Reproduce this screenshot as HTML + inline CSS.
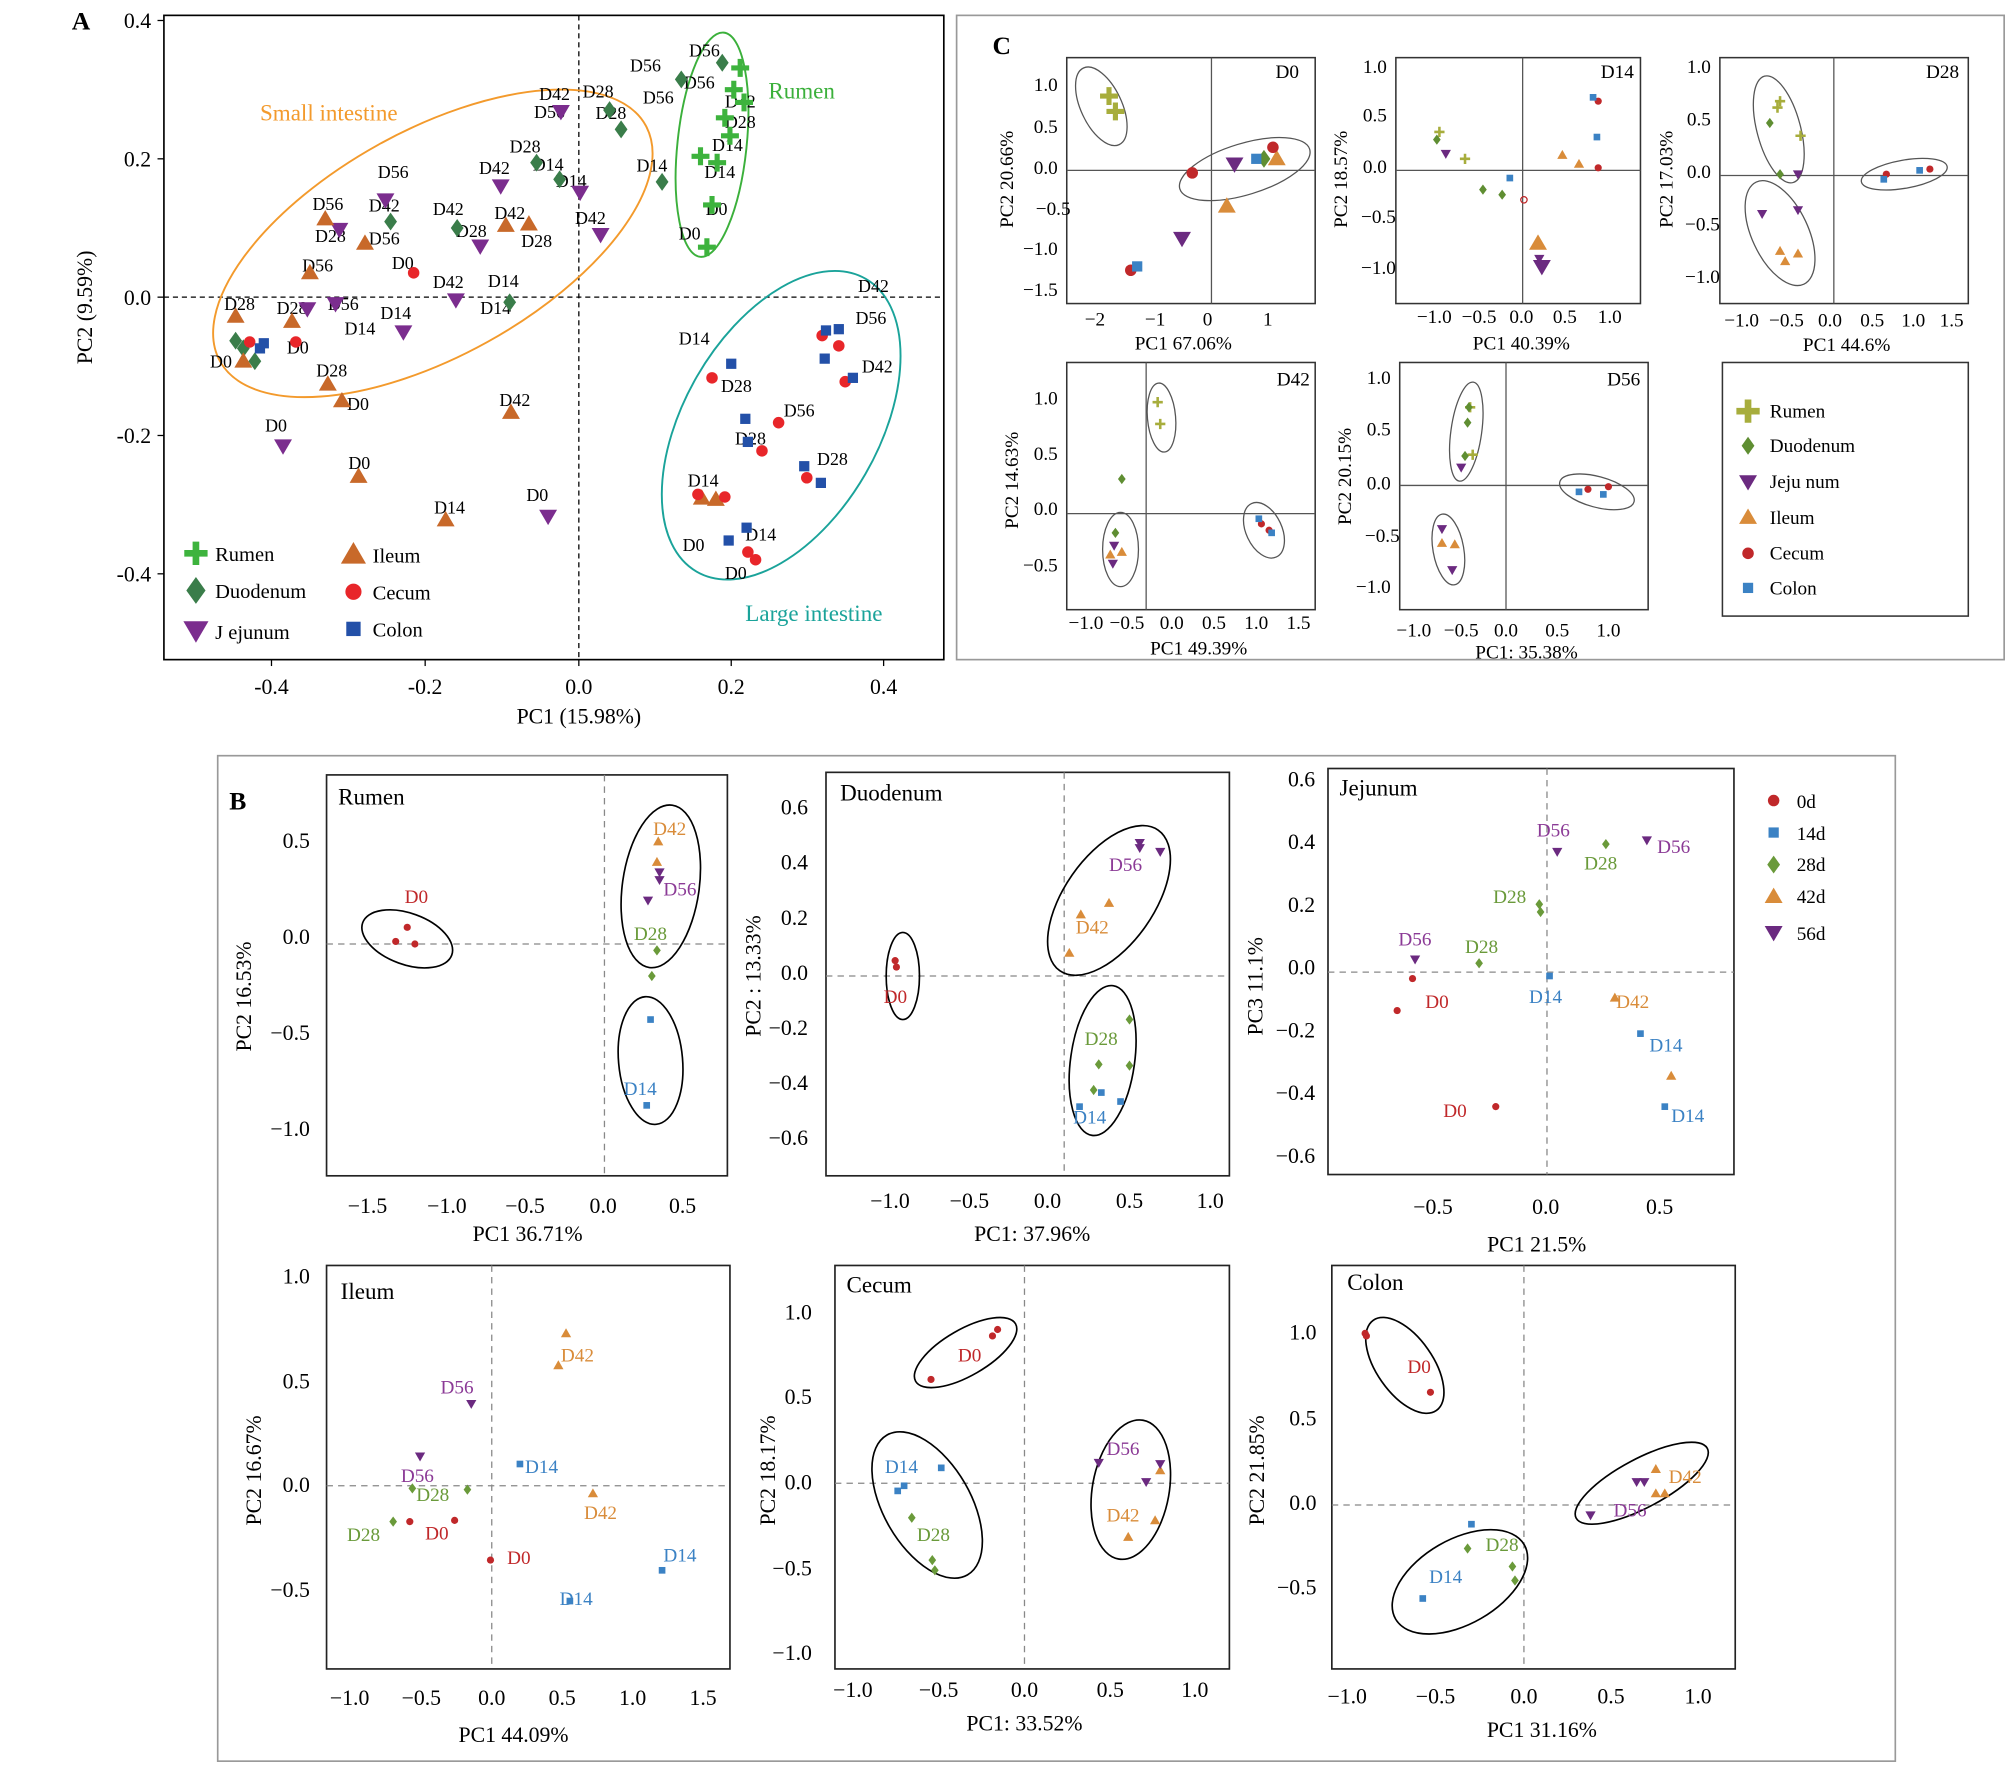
<!DOCTYPE html>
<html><head><meta charset="utf-8"><style>
html,body{margin:0;padding:0;background:#fff}
svg{display:block}
text{font-family:"Liberation Serif",serif}
</style></head><body>
<svg width="2008" height="1765" viewBox="0 0 1568 1378" preserveAspectRatio="none" xmlns="http://www.w3.org/2000/svg">
<defs>
<path id="tu" d="M0,-7 L7,5 L-7,5Z"/>
<path id="td" d="M0,7 L7,-5 L-7,-5Z"/>
<path id="di" d="M0,-7 L5,0 L0,7 L-5,0Z"/>
<circle id="ci" r="4.5"/>
<rect id="sq" x="-4" y="-4" width="8" height="8"/>
<path id="pl" d="M-2,-7h4v5h5v4h-5v5h-4v-5h-5v-4h5z"/>
<path id="stu" d="M0,-4 L4,3 L-4,3Z"/>
<path id="std" d="M0,4 L4,-3 L-4,-3Z"/>
<path id="sdi" d="M0,-4 L3,0 L0,4 L-3,0Z"/>
<circle id="sci" r="2.8"/>
<rect id="ssq" x="-2.6" y="-2.6" width="5.2" height="5.2"/>
<path id="spl" d="M-1,-4h2v3h3v2h-3v3h-2v-3h-3v-2h3z"/>
</defs>
<rect width="1568" height="1378" fill="#fff"/>

<!-- ============ PANEL A ============ -->
<text x="56" y="23" font-family="Liberation Sans" font-weight="bold" font-size="20">A</text>
<rect x="128" y="12" width="609" height="503" fill="none" stroke="#000" stroke-width="1.3"/>
<line x1="452" y1="12" x2="452" y2="515" stroke="#000" stroke-dasharray="4,3"/>
<line x1="128" y1="232" x2="737" y2="232" stroke="#000" stroke-dasharray="4,3"/>
<g font-size="17" text-anchor="end">
<text x="118" y="22">0.4</text><text x="118" y="130">0.2</text><text x="118" y="238">0.0</text><text x="118" y="346">-0.2</text><text x="118" y="454">-0.4</text></g>
<g stroke="#000"><line x1="128" y1="16" x2="123" y2="16"/><line x1="128" y1="124" x2="123" y2="124"/><line x1="128" y1="232" x2="123" y2="232"/><line x1="128" y1="340" x2="123" y2="340"/><line x1="128" y1="448" x2="123" y2="448"/>
<line x1="212" y1="515" x2="212" y2="520"/><line x1="332" y1="515" x2="332" y2="520"/><line x1="452" y1="515" x2="452" y2="520"/><line x1="571" y1="515" x2="571" y2="520"/><line x1="690" y1="515" x2="690" y2="520"/></g>
<g font-size="17" text-anchor="middle"><text x="212" y="542">-0.4</text><text x="332" y="542">-0.2</text><text x="452" y="542">0.0</text><text x="571" y="542">0.2</text><text x="690" y="542">0.4</text>
<text x="452" y="565">PC1 (15.98%)</text></g>
<text transform="translate(72,240) rotate(-90)" font-size="17" text-anchor="middle">PC2 (9.59%)</text>

<ellipse cx="338" cy="190" rx="190" ry="88" transform="rotate(-29 338 190)" fill="none" stroke="#f39a2c" stroke-width="1.5"/>
<ellipse cx="556" cy="113" rx="27" ry="88" transform="rotate(6 556 113)" fill="none" stroke="#3bb03b" stroke-width="1.5"/>
<ellipse cx="610" cy="332" rx="76" ry="132" transform="rotate(30 610 332)" fill="none" stroke="#1aa39a" stroke-width="1.5"/>
<text x="203" y="94" font-size="18" fill="#f39a2c">Small intestine</text>
<text x="600" y="77" font-size="18" fill="#3bb03b">Rumen</text>
<text x="582" y="485" font-size="18" fill="#1aa39a">Large intestine</text>

<g font-size="14">
<text x="492" y="56">D56</text><text x="538" y="44">D56</text><text x="534" y="69">D56</text><text x="502" y="81">D56</text><text x="566" y="84">D42</text><text x="566" y="100">D28</text><text x="556" y="118">D14</text><text x="550" y="139">D14</text><text x="551" y="168">D0</text><text x="530" y="187">D0</text><text x="497" y="134">D14</text>
<text x="421" y="78">D42</text><text x="455" y="76">D28</text><text x="417" y="92">D56</text><text x="465" y="93">D28</text><text x="398" y="119">D28</text><text x="374" y="136">D42</text><text x="416" y="133">D14</text><text x="434" y="146">D14</text><text x="295" y="139">D56</text><text x="244" y="164">D56</text><text x="288" y="165">D42</text><text x="246" y="189">D28</text><text x="288" y="191">D56</text><text x="338" y="168">D42</text><text x="356" y="185">D28</text><text x="386" y="171">D42</text><text x="407" y="193">D28</text><text x="449" y="175">D42</text><text x="306" y="210">D0</text><text x="236" y="212">D56</text><text x="338" y="225">D42</text><text x="381" y="224">D14</text><text x="375" y="245">D14</text><text x="297" y="249">D14</text><text x="269" y="261">D14</text><text x="256" y="242">D56</text><text x="175" y="242">D28</text><text x="216" y="245">D28</text><text x="224" y="276">D0</text><text x="164" y="287">D0</text><text x="247" y="294">D28</text><text x="271" y="320">D0</text><text x="207" y="337">D0</text><text x="390" y="317">D42</text><text x="272" y="366">D0</text><text x="339" y="401">D14</text><text x="411" y="391">D0</text>
<text x="670" y="228">D42</text><text x="668" y="253">D56</text><text x="530" y="269">D14</text><text x="673" y="291">D42</text><text x="563" y="306">D28</text><text x="612" y="325">D56</text><text x="574" y="347">D28</text><text x="638" y="363">D28</text><text x="537" y="380">D14</text><text x="582" y="422">D14</text><text x="533" y="430">D0</text><text x="566" y="452">D0</text>
</g>
<g fill="#3db33d"><use href="#pl" x="578" y="53"/><use href="#pl" x="573" y="70"/><use href="#pl" x="581" y="80"/><use href="#pl" x="566" y="92"/><use href="#pl" x="570" y="106"/><use href="#pl" x="560" y="127"/><use href="#pl" x="556" y="160"/><use href="#pl" x="552" y="193"/><use href="#pl" x="547" y="122"/></g>
<g fill="#3a7d4a"><use href="#di" x="564" y="49"/><use href="#di" x="532" y="62"/><use href="#di" x="485" y="101"/><use href="#di" x="517" y="142"/><use href="#di" x="437" y="140"/><use href="#di" x="419" y="127"/><use href="#di" x="305" y="173"/><use href="#di" x="357" y="178"/><use href="#di" x="398" y="236"/><use href="#di" x="184" y="266"/><use href="#di" x="199" y="282"/><use href="#di" x="190" y="272"/><use href="#di" x="476" y="86"/></g>
<g fill="#7b2d8e"><use href="#td" x="438" y="87"/><use href="#td" x="391" y="145"/><use href="#td" x="301" y="156"/><use href="#td" x="265" y="179"/><use href="#td" x="375" y="192"/><use href="#td" x="469" y="183"/><use href="#td" x="356" y="234"/><use href="#td" x="240" y="241"/><use href="#td" x="315" y="259"/><use href="#td" x="221" y="348"/><use href="#td" x="428" y="403"/><use href="#td" x="453" y="150"/><use href="#td" x="262" y="237"/></g>
<g fill="#c8692a"><use href="#tu" x="254" y="171"/><use href="#tu" x="285" y="190"/><use href="#tu" x="395" y="176"/><use href="#tu" x="413" y="175"/><use href="#tu" x="242" y="213"/><use href="#tu" x="184" y="247"/><use href="#tu" x="228" y="251"/><use href="#tu" x="190" y="282"/><use href="#tu" x="256" y="300"/><use href="#tu" x="267" y="313"/><use href="#tu" x="399" y="322"/><use href="#tu" x="280" y="372"/><use href="#tu" x="348" y="406"/><use href="#tu" x="548" y="389"/><use href="#tu" x="559" y="390"/></g>
<g fill="#e8262a"><use href="#ci" x="323" y="213"/><use href="#ci" x="195" y="267"/><use href="#ci" x="231" y="267"/><use href="#ci" x="556" y="295"/><use href="#ci" x="608" y="330"/><use href="#ci" x="642" y="262"/><use href="#ci" x="655" y="270"/><use href="#ci" x="660" y="298"/><use href="#ci" x="630" y="373"/><use href="#ci" x="595" y="352"/><use href="#ci" x="590" y="437"/><use href="#ci" x="584" y="431"/><use href="#ci" x="566" y="388"/><use href="#ci" x="545" y="386"/></g>
<g fill="#2350a8"><use href="#sq" x="203" y="272"/><use href="#sq" x="206" y="268"/><use href="#sq" x="571" y="284"/><use href="#sq" x="582" y="327"/><use href="#sq" x="584" y="345"/><use href="#sq" x="645" y="258"/><use href="#sq" x="655" y="257"/><use href="#sq" x="666" y="295"/><use href="#sq" x="628" y="364"/><use href="#sq" x="641" y="377"/><use href="#sq" x="583" y="412"/><use href="#sq" x="569" y="422"/><use href="#sq" x="644" y="280"/></g>
<g font-size="16">
<use href="#pl" x="153" y="432" fill="#3db33d" transform="translate(153,432) scale(1.3) translate(-153,-432)"/><text x="168" y="438">Rumen</text>
<use href="#di" x="153" y="461" fill="#3a7d4a" transform="translate(153,461) scale(1.5) translate(-153,-461)"/><text x="168" y="467">Duodenum</text>
<use href="#td" x="153" y="492" fill="#7b2d8e" transform="translate(153,492) scale(1.4) translate(-153,-492)"/><text x="168" y="499">J ejunum</text>
<use href="#tu" x="276" y="433" fill="#c8692a" transform="translate(276,433) scale(1.4) translate(-276,-433)"/><text x="291" y="439">Ileum</text>
<use href="#ci" x="276" y="462" fill="#e8262a" transform="translate(276,462) scale(1.4) translate(-276,-462)"/><text x="291" y="468">Cecum</text>
<use href="#sq" x="276" y="491" fill="#2350a8" transform="translate(276,491) scale(1.4) translate(-276,-491)"/><text x="291" y="497">Colon</text>
</g>

<!-- ============ PANEL C ============ -->
<rect x="747" y="12" width="818" height="503" fill="none" stroke="#999" stroke-width="1.3"/>
<text x="775" y="42" font-family="Liberation Sans" font-weight="bold" font-size="20">C</text>
<g fill="none" stroke="#333" stroke-width="1.2">
<rect x="833" y="45" width="194" height="192"/><rect x="1090" y="45" width="191" height="192"/><rect x="1343" y="45" width="194" height="192"/>
<rect x="833" y="283" width="194" height="193"/><rect x="1093" y="283" width="194" height="193"/><rect x="1345" y="283" width="192" height="198"/>
</g>
<g stroke="#555" stroke-width="1">
<line x1="946" y1="45" x2="946" y2="237"/><line x1="833" y1="133" x2="1027" y2="133"/>
<line x1="1189" y1="45" x2="1189" y2="237"/><line x1="1090" y1="133" x2="1281" y2="133"/>
<line x1="1432" y1="45" x2="1432" y2="237"/><line x1="1343" y1="137" x2="1537" y2="137"/>
<line x1="895" y1="283" x2="895" y2="476"/><line x1="833" y1="401" x2="1027" y2="401"/>
<line x1="1176" y1="283" x2="1176" y2="476"/><line x1="1093" y1="379" x2="1287" y2="379"/>
</g>
<g font-size="15">
<text x="996" y="61">D0</text><text x="1250" y="61">D14</text><text x="1504" y="61">D28</text><text x="997" y="301">D42</text><text x="1255" y="301">D56</text>
</g>
<g font-size="15" text-anchor="end">
<text x="826" y="71">1.0</text><text x="826" y="104">0.5</text><text x="826" y="136">0.0</text><text x="826" y="199">−1.0</text><text x="826" y="231">−1.5</text><text x="836" y="168">−0.5</text>
<text x="1083" y="57">1.0</text><text x="1083" y="95">0.5</text><text x="1083" y="135">0.0</text><text x="1090" y="174">−0.5</text><text x="1090" y="214">−1.0</text>
<text x="1336" y="57">1.0</text><text x="1336" y="98">0.5</text><text x="1336" y="139">0.0</text><text x="1343" y="180">−0.5</text><text x="1343" y="221">−1.0</text>
<text x="826" y="316">1.0</text><text x="826" y="359">0.5</text><text x="826" y="402">0.0</text><text x="826" y="446">−0.5</text>
<text x="1086" y="300">1.0</text><text x="1086" y="340">0.5</text><text x="1086" y="382">0.0</text><text x="1093" y="423">−0.5</text><text x="1086" y="463">−1.0</text>
</g>
<g font-size="15" text-anchor="middle">
<text x="855" y="254">−2</text><text x="902" y="254">−1</text><text x="943" y="254">0</text><text x="990" y="254">1</text><text x="924" y="273">PC1 67.06%</text>
<text x="1120" y="252">−1.0</text><text x="1155" y="252">−0.5</text><text x="1188" y="252">0.0</text><text x="1222" y="252">0.5</text><text x="1257" y="252">1.0</text><text x="1188" y="273">PC1 40.39%</text>
<text x="1360" y="255">−1.0</text><text x="1395" y="255">−0.5</text><text x="1429" y="255">0.0</text><text x="1462" y="255">0.5</text><text x="1494" y="255">1.0</text><text x="1524" y="255">1.5</text><text x="1442" y="274">PC1 44.6%</text>
<text x="848" y="491">−1.0</text><text x="880" y="491">−0.5</text><text x="915" y="491">0.0</text><text x="948" y="491">0.5</text><text x="981" y="491">1.0</text><text x="1014" y="491">1.5</text><text x="936" y="511">PC1 49.39%</text>
<text x="1104" y="497">−1.0</text><text x="1141" y="497">−0.5</text><text x="1176" y="497">0.0</text><text x="1216" y="497">0.5</text><text x="1256" y="497">1.0</text><text x="1192" y="514">PC1: 35.38%</text>
</g>
<g font-size="15" text-anchor="middle">
<text transform="translate(791,140) rotate(-90)">PC2 20.66%</text>
<text transform="translate(1052,140) rotate(-90)">PC2 18.57%</text>
<text transform="translate(1306,140) rotate(-90)">PC2 17.03%</text>
<text transform="translate(795,375) rotate(-90)">PC2 14.63%</text>
<text transform="translate(1055,372) rotate(-90)">PC2 20.15%</text>
</g>
<g fill="none" stroke="#555" stroke-width="1">
<ellipse cx="860" cy="83" rx="16" ry="33" transform="rotate(-25 860 83)"/>
<ellipse cx="972" cy="132" rx="53" ry="20" transform="rotate(-17 972 132)"/>
<ellipse cx="1389" cy="101" rx="17" ry="43" transform="rotate(-15 1389 101)"/>
<ellipse cx="1390" cy="182" rx="22" ry="44" transform="rotate(-25 1390 182)"/>
<ellipse cx="1487" cy="136" rx="34" ry="11" transform="rotate(-10 1487 136)"/>
<ellipse cx="907" cy="326" rx="11" ry="27" transform="rotate(-5 907 326)"/>
<ellipse cx="875" cy="429" rx="14" ry="29"/>
<ellipse cx="987" cy="414" rx="14" ry="23" transform="rotate(-25 987 414)"/>
<ellipse cx="1145" cy="337" rx="12" ry="39" transform="rotate(8 1145 337)"/>
<ellipse cx="1131" cy="429" rx="12" ry="28" transform="rotate(-10 1131 429)"/>
<ellipse cx="1247" cy="384" rx="30" ry="12" transform="rotate(15 1247 384)"/>
</g>
<g fill="#a7ad3c"><use href="#pl" x="866" y="75"/><use href="#pl" x="871" y="87"/><use href="#spl" x="1124" y="103"/><use href="#spl" x="1144" y="124"/><use href="#spl" x="1390" y="79"/><use href="#spl" x="1406" y="106"/><use href="#spl" x="904" y="314"/><use href="#spl" x="906" y="331"/><use href="#spl" x="1148" y="318"/><use href="#spl" x="1150" y="355"/><use href="#spl" x="1388" y="84"/></g>
<g fill="#5f8e32"><use href="#di" x="987" y="124"/><use href="#sdi" x="1122" y="109"/><use href="#sdi" x="1158" y="148"/><use href="#sdi" x="1173" y="152"/><use href="#sdi" x="1382" y="96"/><use href="#sdi" x="1390" y="136"/><use href="#sdi" x="876" y="374"/><use href="#sdi" x="871" y="416"/><use href="#sdi" x="1146" y="330"/><use href="#sdi" x="1144" y="356"/><use href="#sdi" x="1147" y="318"/></g>
<g fill="#6b2a80"><use href="#td" x="964" y="128"/><use href="#td" x="923" y="186"/><use href="#std" x="1129" y="120"/><use href="#std" x="1202" y="202"/><use href="#td" x="1204" y="208"/><use href="#std" x="1404" y="136"/><use href="#std" x="1376" y="167"/><use href="#std" x="1404" y="164"/><use href="#std" x="870" y="426"/><use href="#std" x="869" y="440"/><use href="#std" x="1126" y="413"/><use href="#std" x="1134" y="445"/><use href="#std" x="1141" y="365"/></g>
<g fill="#d98c3a"><use href="#tu" x="958" y="161"/><use href="#tu" x="997" y="124"/><use href="#tu" x="1201" y="190"/><use href="#stu" x="1220" y="121"/><use href="#stu" x="1233" y="128"/><use href="#stu" x="1394" y="204"/><use href="#stu" x="1404" y="198"/><use href="#stu" x="1390" y="196"/><use href="#stu" x="867" y="433"/><use href="#stu" x="876" y="431"/><use href="#stu" x="1126" y="424"/><use href="#stu" x="1136" y="425"/></g>
<g fill="#c0282a"><use href="#ci" x="931" y="135"/><use href="#ci" x="994" y="115"/><use href="#ci" x="883" y="211"/><use href="#sci" x="1248" y="79"/><use href="#sci" x="1248" y="131"/><circle cx="1190" cy="156" r="2.5" fill="none" stroke="#c0282a"/><use href="#sci" x="1473" y="136"/><use href="#sci" x="1507" y="132"/><use href="#sci" x="985" y="409"/><use href="#sci" x="991" y="414"/><use href="#sci" x="1240" y="382"/><use href="#sci" x="1256" y="380"/></g>
<g fill="#3b82c4"><use href="#sq" x="981" y="124"/><use href="#sq" x="888" y="208"/><use href="#ssq" x="1244" y="76"/><use href="#ssq" x="1247" y="107"/><use href="#ssq" x="1179" y="139"/><use href="#ssq" x="1471" y="140"/><use href="#ssq" x="1499" y="133"/><use href="#ssq" x="983" y="405"/><use href="#ssq" x="993" y="416"/><use href="#ssq" x="1233" y="384"/><use href="#ssq" x="1252" y="386"/></g>
<g font-size="15">
<use href="#pl" x="1365" y="321" fill="#a7ad3c" transform="translate(1365,321) scale(1.3) translate(-1365,-321)"/><text x="1382" y="326">Rumen</text>
<use href="#di" x="1365" y="348" fill="#5f8e32"/><text x="1382" y="353">Duodenum</text>
<use href="#td" x="1365" y="376" fill="#6b2a80"/><text x="1382" y="381">Jeju num</text>
<use href="#tu" x="1365" y="404" fill="#d98c3a"/><text x="1382" y="409">Ileum</text>
<use href="#ci" x="1365" y="432" fill="#c0282a"/><text x="1382" y="437">Cecum</text>
<use href="#sq" x="1365" y="459" fill="#3b82c4"/><text x="1382" y="464">Colon</text>
</g>

<!-- ============ PANEL B ============ -->
<rect x="170" y="590" width="1310" height="785" fill="none" stroke="#999" stroke-width="1.3"/>
<text x="179" y="632" font-family="Liberation Sans" font-weight="bold" font-size="20">B</text>
<g fill="none" stroke="#222" stroke-width="1.3">
<rect x="255" y="605" width="313" height="313"/><rect x="645" y="603" width="315" height="315"/><rect x="1037" y="600" width="317" height="317"/>
<rect x="255" y="988" width="315" height="315"/><rect x="652" y="988" width="308" height="315"/><rect x="1040" y="988" width="315" height="315"/>
</g>
<g stroke="#888" stroke-dasharray="5,4" stroke-width="1">
<line x1="472" y1="605" x2="472" y2="918"/><line x1="255" y1="737" x2="568" y2="737"/>
<line x1="831" y1="603" x2="831" y2="918"/><line x1="645" y1="762" x2="960" y2="762"/>
<line x1="1208" y1="600" x2="1208" y2="917"/><line x1="1037" y1="759" x2="1354" y2="759"/>
<line x1="384" y1="988" x2="384" y2="1303"/><line x1="255" y1="1160" x2="570" y2="1160"/>
<line x1="800" y1="988" x2="800" y2="1303"/><line x1="652" y1="1158" x2="960" y2="1158"/>
<line x1="1190" y1="988" x2="1190" y2="1303"/><line x1="1040" y1="1175" x2="1355" y2="1175"/>
</g>
<g font-size="18">
<text x="264" y="628">Rumen</text><text x="656" y="625">Duodenum</text><text x="1046" y="621">Jejunum</text>
<text x="266" y="1014">Ileum</text><text x="661" y="1009">Cecum</text><text x="1052" y="1007">Colon</text>
</g>
<g font-size="17" text-anchor="end">
<text x="242" y="662">0.5</text><text x="242" y="737">0.0</text><text x="242" y="812">−0.5</text><text x="242" y="887">−1.0</text>
<text x="631" y="636">0.6</text><text x="631" y="679">0.4</text><text x="631" y="722">0.2</text><text x="631" y="765">0.0</text><text x="631" y="808">−0.2</text><text x="631" y="851">−0.4</text><text x="631" y="894">−0.6</text>
<text x="1027" y="614">0.6</text><text x="1027" y="663">0.4</text><text x="1027" y="712">0.2</text><text x="1027" y="761">0.0</text><text x="1027" y="810">−0.2</text><text x="1027" y="859">−0.4</text><text x="1027" y="908">−0.6</text>
<text x="242" y="1002">1.0</text><text x="242" y="1084">0.5</text><text x="242" y="1165">0.0</text><text x="242" y="1247">−0.5</text>
<text x="634" y="1030">1.0</text><text x="634" y="1096">0.5</text><text x="634" y="1163">0.0</text><text x="634" y="1230">−0.5</text><text x="634" y="1296">−1.0</text>
<text x="1028" y="1046">1.0</text><text x="1028" y="1113">0.5</text><text x="1028" y="1179">0.0</text><text x="1028" y="1245">−0.5</text>
</g>
<g font-size="17" text-anchor="middle">
<text x="287" y="947">−1.5</text><text x="349" y="947">−1.0</text><text x="410" y="947">−0.5</text><text x="471" y="947">0.0</text><text x="533" y="947">0.5</text><text x="412" y="969">PC1 36.71%</text>
<text x="695" y="943">−1.0</text><text x="757" y="943">−0.5</text><text x="818" y="943">0.0</text><text x="882" y="943">0.5</text><text x="945" y="943">1.0</text><text x="806" y="969">PC1: 37.96%</text>
<text x="1119" y="948">−0.5</text><text x="1207" y="948">0.0</text><text x="1296" y="948">0.5</text><text x="1200" y="977">PC1 21.5%</text>
<text x="273" y="1331">−1.0</text><text x="329" y="1331">−0.5</text><text x="384" y="1331">0.0</text><text x="439" y="1331">0.5</text><text x="494" y="1331">1.0</text><text x="549" y="1331">1.5</text><text x="401" y="1360">PC1 44.09%</text>
<text x="666" y="1325">−1.0</text><text x="733" y="1325">−0.5</text><text x="800" y="1325">0.0</text><text x="867" y="1325">0.5</text><text x="933" y="1325">1.0</text><text x="800" y="1351">PC1: 33.52%</text>
<text x="1052" y="1330">−1.0</text><text x="1121" y="1330">−0.5</text><text x="1190" y="1330">0.0</text><text x="1258" y="1330">0.5</text><text x="1326" y="1330">1.0</text><text x="1204" y="1356">PC1 31.16%</text>
</g>
<g font-size="17" text-anchor="middle">
<text transform="translate(196,778) rotate(-90)">PC2 16.53%</text>
<text transform="translate(594,762) rotate(-90)">PC2 :  13.33%</text>
<text transform="translate(986,770) rotate(-90)">PC3 11.1%</text>
<text transform="translate(204,1148) rotate(-90)">PC2 16.67%</text>
<text transform="translate(605,1148) rotate(-90)">PC2 18.17%</text>
<text transform="translate(987,1148) rotate(-90)">PC2 21.85%</text>
</g>
<g fill="none" stroke="#000" stroke-width="1.3">
<ellipse cx="318" cy="733" rx="37" ry="20" transform="rotate(20 318 733)"/>
<ellipse cx="516" cy="692" rx="30" ry="64" transform="rotate(8 516 692)"/>
<ellipse cx="508" cy="828" rx="25" ry="50" transform="rotate(-5 508 828)"/>
<ellipse cx="705" cy="762" rx="13" ry="34"/>
<ellipse cx="866" cy="703" rx="35" ry="67" transform="rotate(35 866 703)"/>
<ellipse cx="861" cy="828" rx="25" ry="59" transform="rotate(8 861 828)"/>
<ellipse cx="754" cy="1056" rx="45" ry="18" transform="rotate(-30 754 1056)"/>
<ellipse cx="724" cy="1175" rx="34" ry="63" transform="rotate(-30 724 1175)"/>
<ellipse cx="883" cy="1163" rx="30" ry="55" transform="rotate(10 883 1163)"/>
<ellipse cx="1097" cy="1066" rx="22" ry="43" transform="rotate(-35 1097 1066)"/>
<ellipse cx="1140" cy="1235" rx="58" ry="33" transform="rotate(-30 1140 1235)"/>
<ellipse cx="1282" cy="1158" rx="58" ry="19" transform="rotate(-28 1282 1158)"/>
</g>
<g font-size="15">
<g fill="#c0282a"><text x="316" y="705">D0</text><text x="690" y="783">D0</text><text x="1113" y="787">D0</text><text x="1127" y="872">D0</text><text x="332" y="1202">D0</text><text x="396" y="1221">D0</text><text x="748" y="1063">D0</text><text x="1099" y="1072">D0</text></g>
<g fill="#3b82c4"><text x="487" y="855">D14</text><text x="838" y="877">D14</text><text x="1194" y="783">D14</text><text x="1288" y="821">D14</text><text x="1305" y="876">D14</text><text x="410" y="1150">D14</text><text x="518" y="1219">D14</text><text x="437" y="1253">D14</text><text x="691" y="1150">D14</text><text x="1116" y="1236">D14</text></g>
<g fill="#6a9a3a"><text x="495" y="734">D28</text><text x="847" y="816">D28</text><text x="1166" y="705">D28</text><text x="1144" y="744">D28</text><text x="1237" y="679">D28</text><text x="325" y="1172">D28</text><text x="271" y="1203">D28</text><text x="716" y="1203">D28</text><text x="1160" y="1211">D28</text></g>
<g fill="#d98c3a"><text x="510" y="652">D42</text><text x="840" y="729">D42</text><text x="1262" y="787">D42</text><text x="438" y="1063">D42</text><text x="456" y="1186">D42</text><text x="864" y="1188">D42</text><text x="1303" y="1158">D42</text></g>
<g fill="#8b3a96"><text x="518" y="699">D56</text><text x="866" y="680">D56</text><text x="1200" y="653">D56</text><text x="1294" y="666">D56</text><text x="1092" y="738">D56</text><text x="344" y="1088">D56</text><text x="313" y="1157">D56</text><text x="864" y="1136">D56</text><text x="1260" y="1184">D56</text></g>
</g>
<g fill="#c0282a"><use href="#sci" x="318" y="724"/><use href="#sci" x="309" y="735"/><use href="#sci" x="324" y="737"/><use href="#sci" x="699" y="750"/><use href="#sci" x="700" y="755"/><use href="#sci" x="1103" y="764"/><use href="#sci" x="1091" y="789"/><use href="#sci" x="1168" y="864"/><use href="#sci" x="320" y="1188"/><use href="#sci" x="355" y="1187"/><use href="#sci" x="383" y="1218"/><use href="#sci" x="727" y="1077"/><use href="#sci" x="775" y="1043"/><use href="#sci" x="779" y="1038"/><use href="#sci" x="1066" y="1041"/><use href="#sci" x="1067" y="1043"/><use href="#sci" x="1117" y="1087"/></g>
<g fill="#3b82c4"><use href="#ssq" x="508" y="796"/><use href="#ssq" x="505" y="863"/><use href="#ssq" x="860" y="853"/><use href="#ssq" x="875" y="860"/><use href="#ssq" x="843" y="864"/><use href="#ssq" x="1210" y="762"/><use href="#ssq" x="1281" y="807"/><use href="#ssq" x="1300" y="864"/><use href="#ssq" x="406" y="1143"/><use href="#ssq" x="517" y="1226"/><use href="#ssq" x="445" y="1250"/><use href="#ssq" x="735" y="1146"/><use href="#ssq" x="701" y="1164"/><use href="#ssq" x="706" y="1160"/><use href="#ssq" x="1111" y="1248"/><use href="#ssq" x="1149" y="1190"/></g>
<g fill="#6a9a3a"><use href="#sdi" x="513" y="742"/><use href="#sdi" x="509" y="762"/><use href="#sdi" x="858" y="831"/><use href="#sdi" x="882" y="796"/><use href="#sdi" x="882" y="832"/><use href="#sdi" x="854" y="851"/><use href="#sdi" x="1202" y="706"/><use href="#sdi" x="1203" y="712"/><use href="#sdi" x="1155" y="752"/><use href="#sdi" x="1254" y="659"/><use href="#sdi" x="307" y="1188"/><use href="#sdi" x="322" y="1162"/><use href="#sdi" x="365" y="1163"/><use href="#sdi" x="712" y="1185"/><use href="#sdi" x="728" y="1218"/><use href="#sdi" x="730" y="1226"/><use href="#sdi" x="1146" y="1209"/><use href="#sdi" x="1181" y="1223"/><use href="#sdi" x="1183" y="1234"/></g>
<g fill="#d98c3a"><use href="#stu" x="514" y="657"/><use href="#stu" x="513" y="673"/><use href="#stu" x="844" y="714"/><use href="#stu" x="866" y="705"/><use href="#stu" x="835" y="744"/><use href="#stu" x="1261" y="779"/><use href="#stu" x="1305" y="840"/><use href="#stu" x="442" y="1041"/><use href="#stu" x="436" y="1066"/><use href="#stu" x="463" y="1166"/><use href="#stu" x="881" y="1200"/><use href="#stu" x="902" y="1187"/><use href="#stu" x="906" y="1148"/><use href="#stu" x="1293" y="1147"/><use href="#stu" x="1293" y="1166"/><use href="#stu" x="1300" y="1166"/></g>
<g fill="#6b2a80"><use href="#std" x="515" y="681"/><use href="#std" x="515" y="687"/><use href="#std" x="506" y="703"/><use href="#std" x="890" y="658"/><use href="#std" x="890" y="662"/><use href="#std" x="906" y="665"/><use href="#std" x="1216" y="665"/><use href="#std" x="1286" y="656"/><use href="#std" x="1105" y="749"/><use href="#std" x="368" y="1096"/><use href="#std" x="328" y="1137"/><use href="#std" x="858" y="1142"/><use href="#std" x="895" y="1157"/><use href="#std" x="906" y="1143"/><use href="#std" x="1242" y="1183"/><use href="#std" x="1278" y="1157"/><use href="#std" x="1284" y="1157"/></g>
<g font-size="15">
<use href="#ci" x="1385" y="625" fill="#c0282a"/><text x="1403" y="631">0d</text>
<use href="#sq" x="1385" y="650" fill="#3b82c4"/><text x="1403" y="656">14d</text>
<use href="#di" x="1385" y="675" fill="#6a9a3a"/><text x="1403" y="680">28d</text>
<use href="#tu" x="1385" y="700" fill="#d98c3a"/><text x="1403" y="705">42d</text>
<use href="#td" x="1385" y="728" fill="#6b2a80"/><text x="1403" y="734">56d</text>
</g>
</svg>
</body></html>
